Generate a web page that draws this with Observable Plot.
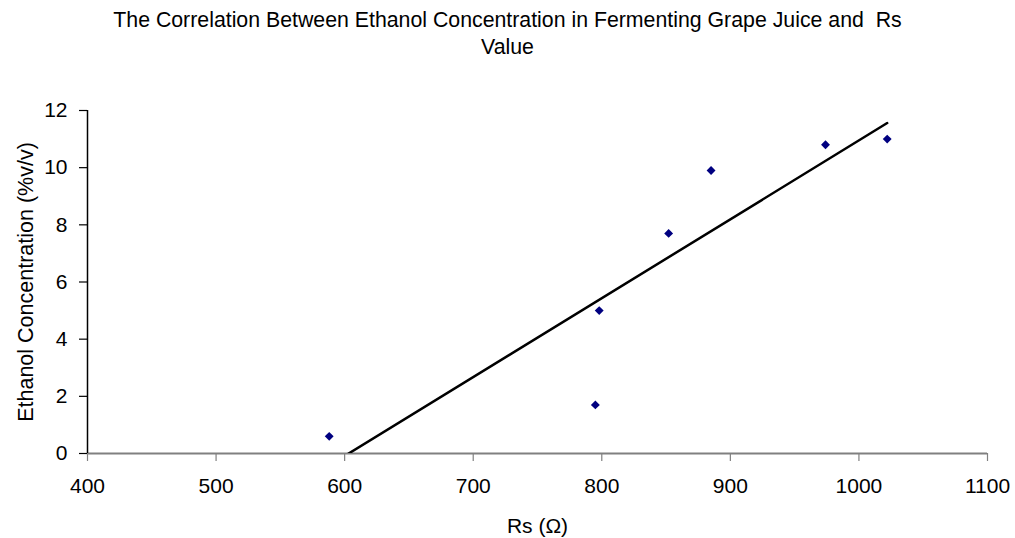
<!DOCTYPE html>
<html>
<head>
<meta charset="utf-8">
<script src="https://cdn.jsdelivr.net/npm/d3@7"></script>
<script src="https://cdn.jsdelivr.net/npm/@observablehq/plot@0.6"></script>
<style>
  html, body { margin: 0; padding: 0; background: #fff; }
  body { width: 1015px; height: 538px; overflow: hidden; font-family: "Liberation Sans", Arial, sans-serif; }
  #title { height: 62px; width: 1015px; text-align: center; font-size: 21.3px; line-height: 27px; padding-top: 7px; box-sizing: border-box; color: #000; white-space: nowrap; }
  #chart svg { display: block; overflow: visible; }
</style>
</head>
<body>
<div id="title">The Correlation Between Ethanol Concentration in Fermenting Grape Juice and&nbsp; Rs<br>Value</div>
<div id="chart"></div>
<script>
const rsValues = [588, 795, 798, 852, 885, 974, 1022];
const ethanolValues = [0.6, 1.7, 5.0, 7.7, 9.9, 10.8, 11.0];
const xTicks = [400, 500, 600, 700, 800, 900, 1000, 1100];
const yTicks = [0, 2, 4, 6, 8, 10, 12];
const xLabel = "Rs (Ω)";
const yLabel = "Ethanol Concentration (%v/v)";

const data = rsValues.map((rs, i) => ({rs, ethanol: ethanolValues[i]}));
const fmt = d3.format("d");

const chart = Plot.plot({
  width: 1015,
  height: 476,
  marginTop: 48,
  marginBottom: 85,
  marginLeft: 87,
  marginRight: 28,
  style: {fontFamily: "Liberation Sans, Arial, sans-serif", fontSize: "21px", background: "white", color: "black", overflow: "visible"},
  x: {domain: [400, 1100]},
  y: {domain: [0, 12]},
  marks: [
    Plot.axisX({ticks: xTicks, tickSize: 8, stroke: "#808080", strokeWidth: 1.2, text: null, label: null}),
    Plot.axisX({ticks: xTicks, tickSize: 0, tickPadding: 25, tickFormat: fmt, label: null, fontSize: 21}),
    Plot.axisY({ticks: yTicks, tickSize: 8, stroke: "black", strokeWidth: 1.2, text: null, label: null}),
    Plot.axisY({ticks: yTicks, tickSize: 0, tickPadding: 20, tickFormat: fmt, label: null, fontSize: 21}),
    Plot.ruleY([0], {stroke: "#808080", strokeWidth: 2}),
    Plot.ruleX([400], {stroke: "black", strokeWidth: 1.5}),
    Plot.linearRegressionY(data, {x: "rs", y: "ethanol", ci: 0, stroke: "black", strokeWidth: 2.5, clip: true}),
    Plot.dot(data, {x: "rs", y: "ethanol", symbol: "diamond2", r: 4, fill: "#000080", stroke: "none"}),
    Plot.text([xLabel], {frameAnchor: "bottom", lineAnchor: "middle", dy: 73, fontSize: 21}),
    Plot.text([yLabel], {frameAnchor: "left", textAnchor: "middle", lineAnchor: "middle", dx: -61, rotate: -90, fontSize: 21.5})
  ]
});
document.getElementById("chart").appendChild(chart);
</script>
</body>
</html>
